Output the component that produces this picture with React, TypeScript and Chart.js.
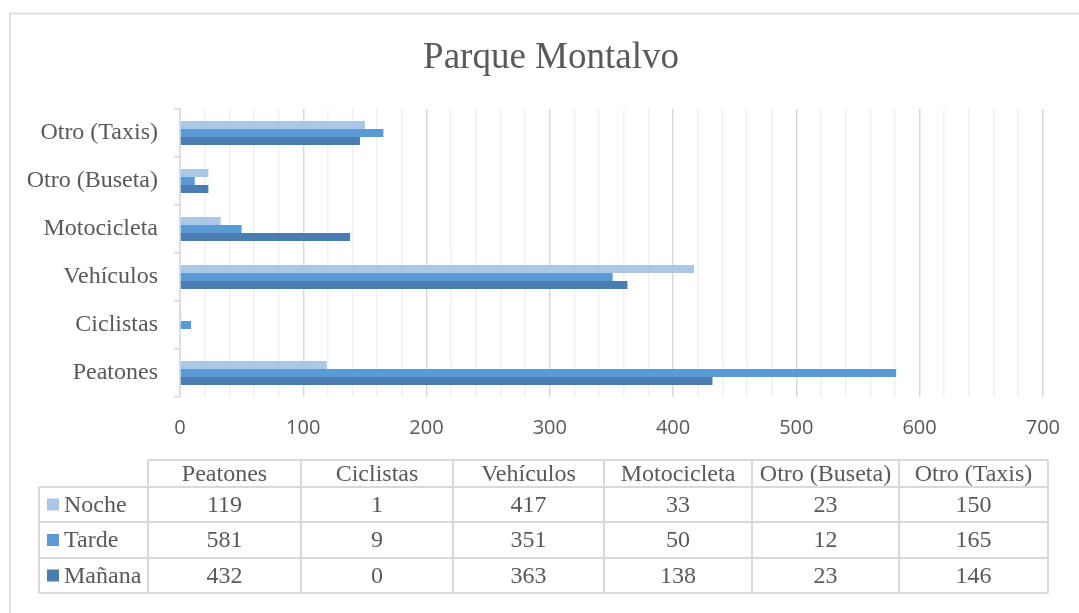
import React, { useEffect, useRef } from "react";
import { Chart, registerables } from "chart.js";

Chart.register(...registerables);

// ---- data ----
const chartTitle = "Parque Montalvo";
const categories = ["Peatones", "Ciclistas", "Vehículos", "Motocicleta", "Otro (Buseta)", "Otro (Taxis)"];
const seriesNames = ["Noche", "Tarde", "Mañana"];
const noche = [119, 1, 417, 33, 23, 150];
const tarde = [581, 9, 351, 50, 12, 165];
const manana = [432, 0, 363, 138, 23, 146];
const xTickLabels = [0, 100, 200, 300, 400, 500, 600, 700];
const minorStep = 20;

// ---- styles ----
const seriesColors = ["#adc6e6", "#5b9bd5", "#4a7eb1"];
const TEXT = "#595959";
const LINE = "#d9d9d9";
const MINOR = "#f0f0f0";
const SERIF = "'Liberation Serif', 'Times New Roman', serif";
const SANS = "'Open Sans', 'Noto Sans', sans-serif";

const W = 1079;
const H = 613;
const colEdges = [148, 301, 453, 604, 752, 899, 1048];

const framePlugin = {
  id: "frameAndTable",
  beforeDraw(chart: any) {
    const ctx = chart.ctx;
    ctx.save();
    ctx.fillStyle = "#ffffff";
    ctx.fillRect(0, 0, W, H);
    ctx.strokeStyle = LINE;
    ctx.lineWidth = 1.5;
    ctx.strokeRect(10, 13.5, 1200, 800);
    ctx.restore();
  },
  afterDraw(chart: any) {
    const ctx = chart.ctx;
    ctx.save();
    // title
    ctx.fillStyle = TEXT;
    ctx.font = `37px ${SERIF}`;
    ctx.textAlign = "center";
    ctx.textBaseline = "middle";
    ctx.fillText(chartTitle, 551, 58);

    // data table
    const legendLeft = 39;
    const headerTop = 460;
    const rowLines = [487, 522, 558, 593];
    const tableRight = colEdges[colEdges.length - 1];
    ctx.strokeStyle = LINE;
    ctx.lineWidth = 2;
    ctx.beginPath();
    ctx.moveTo(colEdges[0], headerTop);
    ctx.lineTo(tableRight, headerTop);
    for (const y of rowLines) {
      ctx.moveTo(legendLeft, y);
      ctx.lineTo(tableRight, y);
    }
    ctx.moveTo(legendLeft, rowLines[0]);
    ctx.lineTo(legendLeft, rowLines[rowLines.length - 1]);
    for (const x of colEdges) {
      ctx.moveTo(x, headerTop);
      ctx.lineTo(x, rowLines[rowLines.length - 1]);
    }
    ctx.stroke();

    ctx.font = `24px ${SERIF}`;
    ctx.fillStyle = TEXT;
    ctx.textBaseline = "middle";
    ctx.textAlign = "center";
    categories.forEach((c, i) => {
      ctx.fillText(c, (colEdges[i] + colEdges[i + 1]) / 2, (headerTop + rowLines[0]) / 2 + 1);
    });
    const seriesData = [noche, tarde, manana];
    seriesData.forEach((arr, r) => {
      const yc = (rowLines[r] + rowLines[r + 1]) / 2 + 1;
      ctx.fillStyle = seriesColors[r];
      ctx.fillRect(47, yc - 7, 12, 12);
      ctx.fillStyle = TEXT;
      ctx.textAlign = "left";
      ctx.fillText(seriesNames[r], 64, yc);
      ctx.textAlign = "center";
      arr.forEach((v, i) => {
        ctx.fillText(String(v), (colEdges[i] + colEdges[i + 1]) / 2, yc);
      });
    });
    ctx.restore();
  },
};

export default function App() {
  const canvasRef = useRef<HTMLCanvasElement | null>(null);

  useEffect(() => {
    const canvas = canvasRef.current;
    if (!canvas) return;
    const chart = new Chart(canvas, {
      type: "bar",
      data: {
        labels: categories,
        datasets: [
          { label: seriesNames[0], data: noche, backgroundColor: seriesColors[0] },
          { label: seriesNames[1], data: tarde, backgroundColor: seriesColors[1] },
          { label: seriesNames[2], data: manana, backgroundColor: seriesColors[2] },
        ],
      },
      options: {
        indexAxis: "y",
        responsive: false,
        animation: false,
        devicePixelRatio: 1,
        layout: { padding: { top: 109, left: 0, right: 34, bottom: 0 } },
        datasets: { bar: { barPercentage: 1, categoryPercentage: 0.5 } },
        plugins: {
          legend: { display: false },
          title: { display: false },
          tooltip: { enabled: false },
        },
        scales: {
          x: {
            type: "linear",
            position: "bottom",
            min: xTickLabels[0],
            max: xTickLabels[xTickLabels.length - 1],
            afterFit: (scale: any) => {
              scale.height = 216;
            },
            border: { display: false },
            grid: {
              drawTicks: false,
              lineWidth: 1.5,
              color: (ctx: any) =>
                ctx.tick && xTickLabels.includes(Math.round(ctx.tick.value)) ? LINE : MINOR,
            },
            ticks: {
              stepSize: minorStep,
              autoSkip: false,
              maxRotation: 0,
              padding: 19,
              color: TEXT,
              font: { family: SANS, size: 20 },
              callback: (v: any) => (xTickLabels.includes(Math.round(Number(v))) ? String(Math.round(Number(v))) : ""),
            },
          },
          y: {
            type: "category",
            reverse: true,
            afterFit: (scale: any) => {
              scale.width = 180;
            },
            border: { display: true, color: LINE, width: 1.5 },
            grid: {
              display: true,
              drawOnChartArea: false,
              drawTicks: true,
              tickLength: 6,
              offset: true,
              color: LINE,
              lineWidth: 1.5,
            },
            ticks: {
              padding: 16,
              color: TEXT,
              font: { family: SERIF, size: 24 },
            },
          },
        },
      },
      plugins: [framePlugin],
    } as any);
    return () => chart.destroy();
  }, []);

  return (
    <div style={{ position: "absolute", left: 0, top: 0, width: W, height: H, background: "#fff" }}>
      <canvas ref={canvasRef} width={W} height={H} style={{ display: "block", width: W, height: H }} />
    </div>
  );
}
